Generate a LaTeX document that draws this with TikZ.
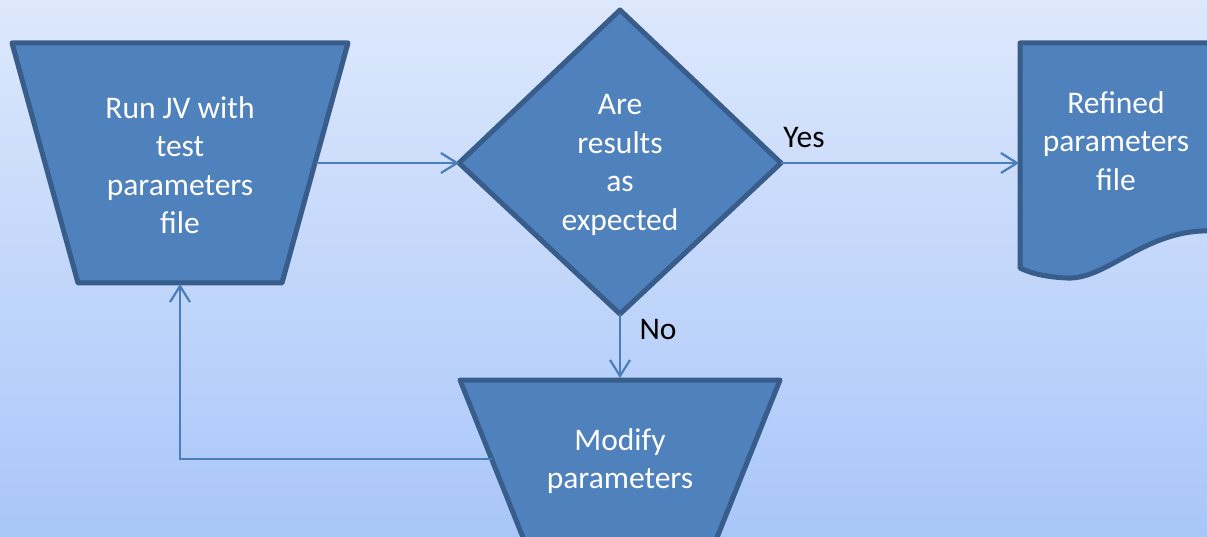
\documentclass[tikz,border=0pt]{standalone}
\usepackage{fontspec}
\setmainfont{Carlito}
\usetikzlibrary{arrows.meta}
\definecolor{bgtop}{RGB}{221,232,252}
\definecolor{bgbot}{RGB}{169,198,249}
\definecolor{boxfill}{RGB}{79,129,189}
\definecolor{boxline}{RGB}{56,93,138}
\definecolor{arrowcol}{RGB}{74,126,187}
\tikzset{
  shapebox/.style={fill=boxfill, draw=boxline, line width=5pt, line join=round},
  boxtext/.style={text=white, align=center, font=\fontsize{31.5}{38.5}\selectfont},
  labeltext/.style={text=black, font=\fontsize{31.5}{38.5}\selectfont},
  conn/.style={draw=arrowcol, line width=2.2pt, -{Straight Barb[length=16pt,width=20pt,line width=2.2pt]}},
  plainconn/.style={draw=arrowcol, line width=2.2pt}
}
\begin{document}
\begin{tikzpicture}[x=1pt,y=-1pt]
\useasboundingbox (0,0) rectangle (1207,537);
\shade[top color=bgtop, bottom color=bgbot] (0,0) rectangle (1207,537);
\begin{scope}
\clip (0,0) rectangle (1207,537);
% left trapezoid
\draw[shapebox] (12,43) -- (348,43) -- (282,283) -- (78,283) -- cycle;
% diamond
\draw[shapebox] (620,10) -- (781,163) -- (620,314) -- (459,163) -- cycle;
% document
\draw[shapebox] (1020,43) -- (1225,43) -- (1225,232)
  .. controls (1150,222) and (1110,280) .. (1067,278)
  .. controls (1045,277) and (1030,273) .. (1020,268) -- cycle;
% bottom trapezoid
\draw[shapebox] (460,380) -- (780,380) -- (708,560) -- (532,560) -- cycle;
\end{scope}

\coordinate (runR) at (316,163);
\coordinate (runB) at (180,284);
\coordinate (decL) at (459,163);
\coordinate (decR) at (781,163);
\coordinate (decB) at (620,314);
\coordinate (docL) at (1019,163);
\coordinate (modT) at (620,378);
\coordinate (modL) at (492,459);
\coordinate (corner) at (180,459);

\node[boxtext] (run) at (180,165) {Run JV with\\test\\parameters\\file};
\node[boxtext] (dec) at (620,165) {Are\\results\\as\\expected};
\node[boxtext] (doc) at (1116,141) {Refined\\parameters\\file};
\node[boxtext] (mod) at (620,461) {Modify\\parameters};
\node[labeltext] (yes) at (804,138) {Yes};
\node[labeltext] (no) at (658,330) {No};

\draw[conn] (runR) -- (decL);
\draw[conn] (decR) -- (docL);
\draw[conn] (decB) -- (modT);
\draw[conn] (modL) -- (corner) -- (runB);
\end{tikzpicture}
\end{document}
